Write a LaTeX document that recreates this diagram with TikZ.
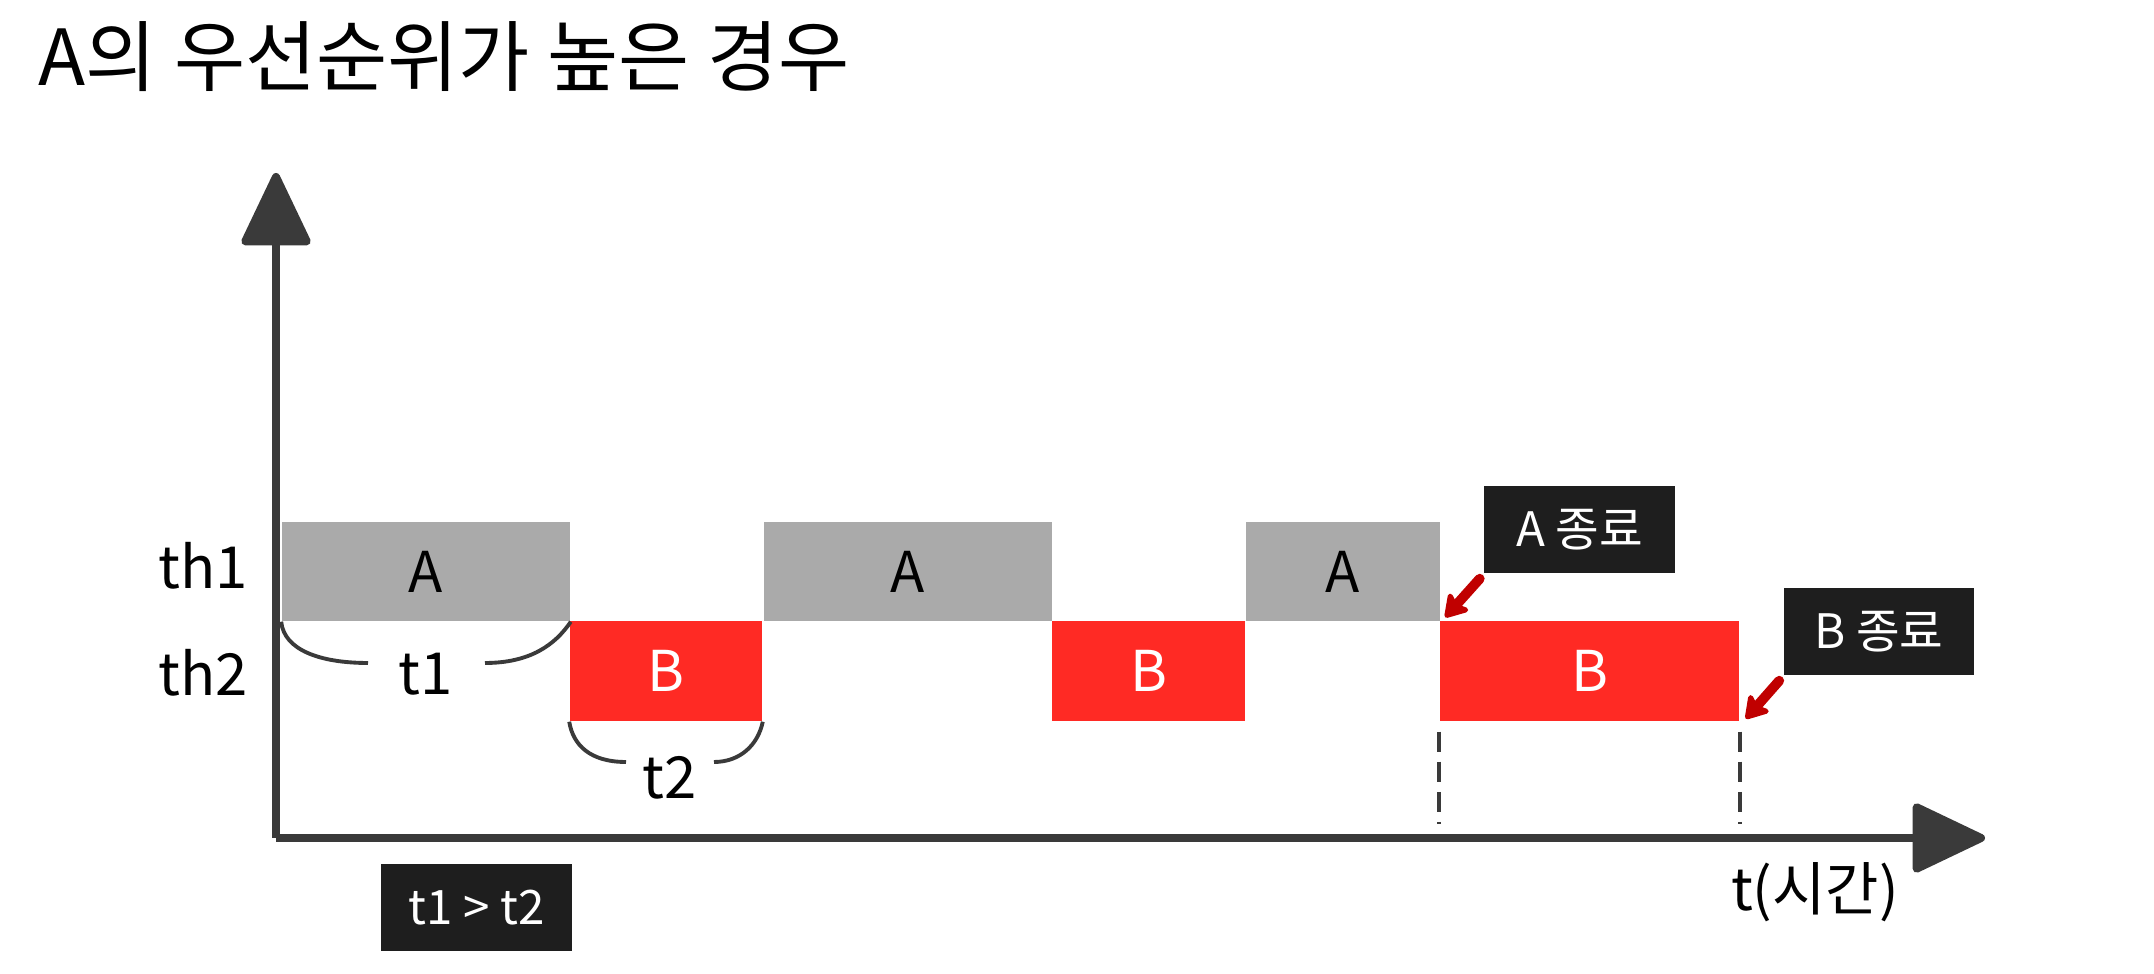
\documentclass[tikz,border=0pt]{standalone}
\usepackage{fontspec}
\setmainfont{Noto Sans CJK KR}
\usetikzlibrary{arrows.meta,positioning,calc}
\definecolor{axisgray}{HTML}{3A3A3A}
\definecolor{taskgray}{HTML}{AAAAAA}
\definecolor{taskred}{HTML}{FF2A24}
\definecolor{tagblack}{HTML}{1E1E1E}
\definecolor{pointred}{HTML}{C00000}

\begin{document}
\begin{tikzpicture}[
  x=0.01cm, y=-0.01cm,
  taskA/.style={rectangle, fill=taskgray, inner sep=0pt, minimum height=0.99cm, font=\fontsize{16}{18}\selectfont, text=black},
  taskB/.style={rectangle, fill=taskred, inner sep=0pt, minimum height=1.0cm, font=\fontsize{16}{18}\selectfont, text=white},
  tagbox/.style={rectangle, fill=tagblack, inner sep=0pt, minimum width=1.9cm, minimum height=0.87cm, font=\fontsize{13.5}{16}\selectfont, text=white},
  rowlabel/.style={font=\fontsize{16.5}{20}\selectfont, inner sep=0pt},
  axis/.style={draw=axisgray, line width=2.3pt, -{Triangle[length=0.78cm, width=0.72cm, round]}},
  span/.style={draw=axisgray, line width=1.1pt},
  endmark/.style={draw=axisgray, line width=1.1pt, dash pattern=on 0.2cm off 0.1cm},
  pointer/.style={draw=pointred, line width=2.8pt, line cap=round, -{Stealth[length=0.26cm, width=0.32cm, inset=0.06cm, round]}}
]
  \useasboundingbox (0,0) rectangle (2154,974);

  % Title
  \node[anchor=base west, inner sep=0pt, font=\fontsize{22}{26}\selectfont] (title) at (38, 86) {A의 우선순위가 높은 경우};

  % ==================== AXES ====================
  \coordinate (origin) at (276, 838);
  \coordinate (ytop) at (276, 173);
  \coordinate (xend) at (1985, 838);

  \draw[axis] (origin) -- (ytop);
  \draw[axis] (origin) -- (xend);

  \node[rowlabel] (th1) at (203, 566) {th1};
  \node[rowlabel] (th2) at (203, 673) {th2};
  \node[rowlabel] (tlabel) at (1815, 892) {t(시간)};

  % ==================== THREAD BLOCKS ====================
  % th1 (A)
  \node[taskA, minimum width=2.88cm] (a1) at (426, 571.5) {A};
  \node[taskA, minimum width=2.88cm] (a2) at (908, 571.5) {A};
  \node[taskA, minimum width=1.94cm] (a3) at (1343, 571.5) {A};

  % th2 (B)
  \node[taskB, minimum width=1.92cm] (b1) at (666, 671) {B};
  \node[taskB, minimum width=1.93cm] (b2) at (1148.5, 671) {B};
  \node[taskB, minimum width=2.99cm] (b3) at (1589.5, 671) {B};

  % Time spans
  \node[rowlabel] (t1lbl) at (426, 674) {t1};
  \node[rowlabel] (t2lbl) at (670, 778) {t2};

  \draw[span] (a1.south west) .. controls (284, 650) and (320, 663) .. (368, 663);
  \draw[span] (485, 663) .. controls (530, 663) and (555, 645) .. (a1.south east);

  \draw[span] (b1.south west) .. controls (573, 745) and (590, 762) .. (626, 762);
  \draw[span] (714, 762) .. controls (740, 762) and (758, 745) .. (b1.south east);

  % End marks
  \draw[endmark] ([yshift=-0.1cm]b3.south west) -- ([yshift=0.14cm]b3.south west |- origin);
  \draw[endmark] ([yshift=-0.1cm]b3.south east) -- ([yshift=0.14cm]b3.south east |- origin);

  % ==================== TAGS ====================
  \node[tagbox] (aend) at (1579.5, 529.5) {A 종료};
  \node[tagbox] (bend) at (1879, 631.5) {B 종료};
  \node[tagbox] (cmp) at (476.5, 907.5) {t1 > t2};

  \draw[pointer] ([shift={(-4,5)}]aend.south west) -- ([shift={(6,-3)}]b3.north west);
  \draw[pointer] ([shift={(-4,5)}]bend.south west) -- ([shift={(6,-3)}]b3.south east);

\end{tikzpicture}
\end{document}
